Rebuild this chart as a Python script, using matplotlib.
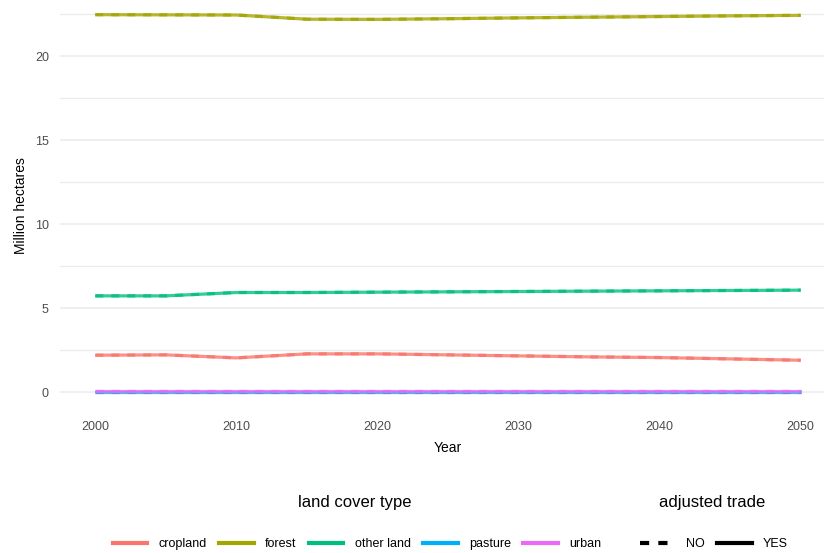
import matplotlib
matplotlib.use("Agg")
import matplotlib.pyplot as plt
from matplotlib.lines import Line2D
from matplotlib.ticker import MultipleLocator

plt.rcParams['font.family'] = ['Liberation Sans', 'DejaVu Sans']

years = [2000, 2005, 2010, 2015, 2020, 2025, 2030, 2035, 2040, 2045, 2050]
cover_types = ["cropland", "forest", "other land", "pasture", "urban"]
cropland = [2.20, 2.22, 2.04, 2.28, 2.28, 2.22, 2.16, 2.10, 2.06, 1.98, 1.90]
forest = [22.46, 22.45, 22.44, 22.19, 22.18, 22.22, 22.27, 22.31, 22.35, 22.39, 22.42]
other_land = [5.73, 5.73, 5.93, 5.93, 5.95, 5.97, 5.99, 6.01, 6.03, 6.05, 6.07]
pasture = [0.01, 0.01, 0.01, 0.01, 0.01, 0.01, 0.01, 0.01, 0.01, 0.01, 0.01]
urban = [0.06, 0.06, 0.06, 0.06, 0.06, 0.06, 0.06, 0.06, 0.06, 0.06, 0.06]
trade_levels = ["NO", "YES"]
colors = ["#F8766D", "#A3A500", "#00BF7D", "#00B0F6", "#E76BF3"]

series = [cropland, forest, other_land, pasture, urban]

W, H = 824, 553
fig = plt.figure(figsize=(W / 100, H / 100), dpi=100)
# panel extends slightly past the right edge of the image (as in the reference)
ax = fig.add_axes([60 / W, 1 - 411 / H, 776 / W, 411 / H])

lw = 2.3
for vals, c in zip(series, colors):
    # YES (solid)
    ax.plot(years, vals, color=c, lw=lw, alpha=0.8, solid_capstyle='butt')
    # NO (dashed)
    ax.plot(years, vals, color=c, lw=lw, alpha=0.8, dashes=(2.5, 2.5), dash_capstyle='butt')

ax.set_xlim(1997.5, 2052.5)
ax.set_ylim(-1.12, 392 / 16.8)
ax.yaxis.set_major_locator(MultipleLocator(5))
ax.yaxis.set_minor_locator(MultipleLocator(2.5))
ax.set_xticks([2000, 2010, 2020, 2030, 2040, 2050])
ax.grid(axis='y', which='major', color='#EBEBEB', lw=1.1)
ax.grid(axis='y', which='minor', color='#EBEBEB', lw=0.9)
ax.grid(axis='x', visible=False)
ax.set_axisbelow(True)
for s in ax.spines.values():
    s.set_visible(False)
ax.tick_params(axis='both', which='both', length=0, labelsize=9, labelcolor='#4D4D4D')
ax.tick_params(axis='y', pad=8)
ax.tick_params(axis='x', pad=7)

ax.set_xlabel("Year", fontsize=10, labelpad=6)
ax.set_ylabel("Million hectares", fontsize=10, labelpad=5)

# legends
h1 = [Line2D([], [], color=c, lw=3) for c in colors]
leg1 = fig.legend(h1, cover_types, loc='center', bbox_to_anchor=(357 / W, 1 - 544 / H),
                  ncol=5, frameon=False, fontsize=9, handlelength=2.75, handletextpad=0.9,
                  columnspacing=1.0, borderpad=0, borderaxespad=0)
h2 = [Line2D([], [], color='black', lw=3, dashes=(2.2, 2.2)),
      Line2D([], [], color='black', lw=3)]
leg2 = fig.legend(h2, trade_levels, loc='center', bbox_to_anchor=(714 / W, 1 - 544 / H),
                  ncol=2, frameon=False, fontsize=9, handlelength=2.75, handletextpad=0.9,
                  columnspacing=1.0, borderpad=0, borderaxespad=0)
fig.text(355 / W, 1 - 502 / H, "land cover type", ha='center', va='center', fontsize=12)
fig.text(712 / W, 1 - 502 / H, "adjusted trade", ha='center', va='center', fontsize=12)

fig.savefig("out.png", dpi=100, facecolor='white')
